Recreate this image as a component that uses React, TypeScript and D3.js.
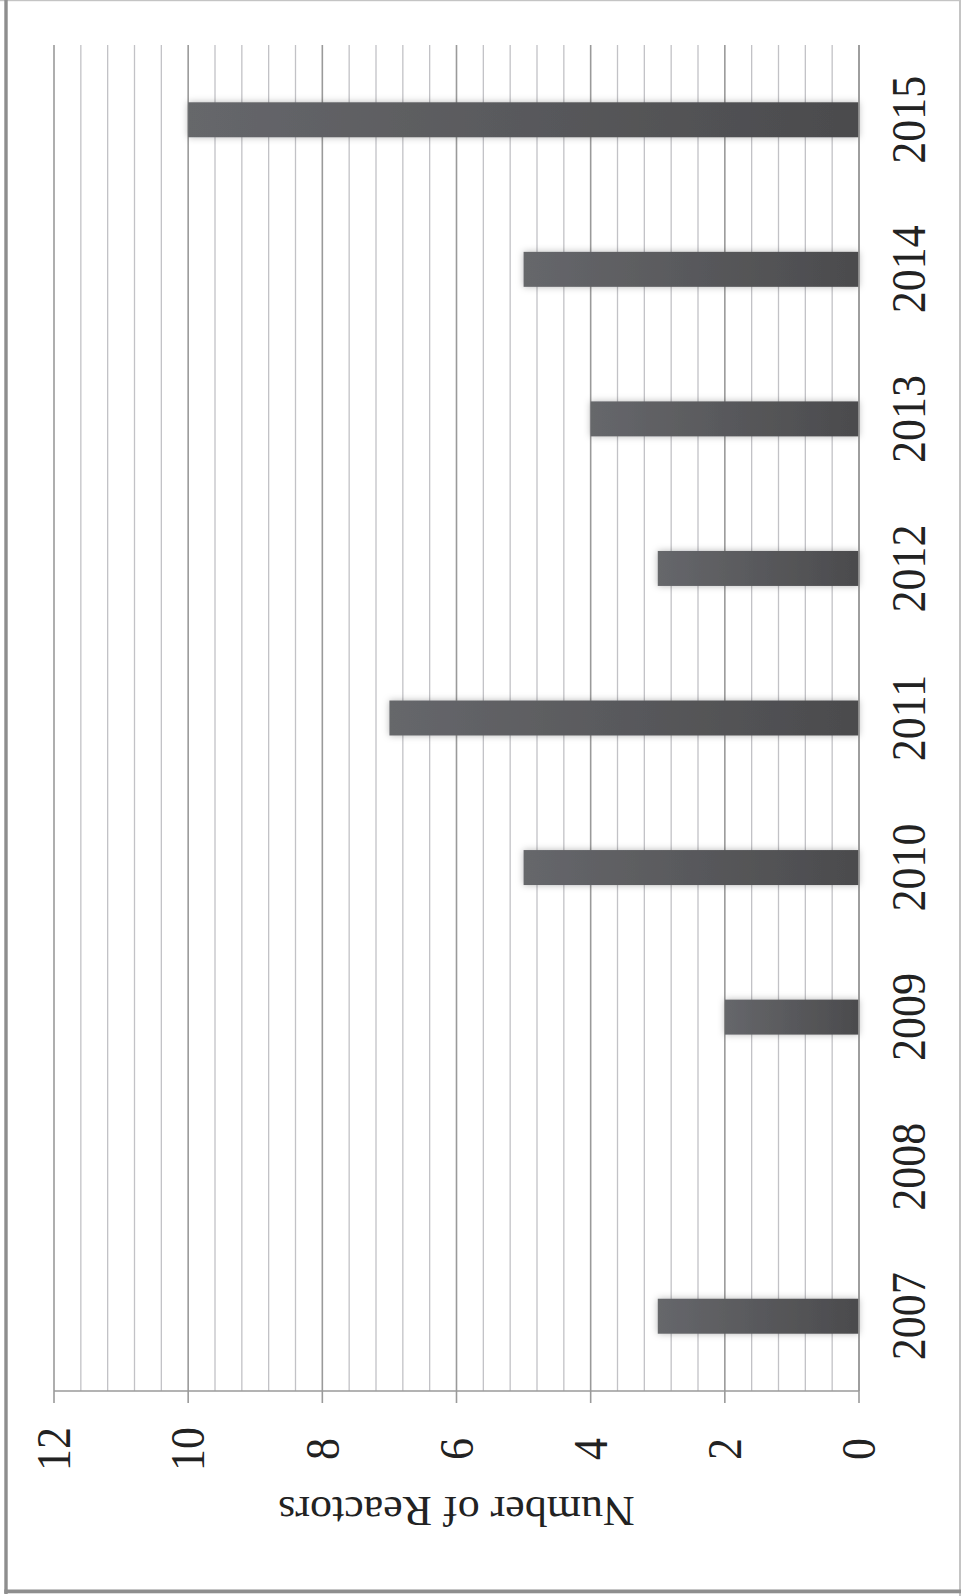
import React from "react";
import * as d3 from "d3";

const categories = ["2007", "2008", "2009", "2010", "2011", "2012", "2013", "2014", "2015"];
const reactors = [3, 0, 2, 5, 7, 3, 4, 5, 10];
const valueTicks = [0, 2, 4, 6, 8, 10, 12];
const axisTitle = "Number of Reactors";

const W = 961;
const H = 1596;
const FONT = "'Liberation Serif', 'Times New Roman', serif";

export default function App() {
  const x = d3.scaleLinear().domain([0, 12]).range([859, 54]);
  const y = d3
    .scaleBand<string>()
    .domain(categories)
    .range([1391, 45])
    .paddingInner(0.766)
    .paddingOuter(0.383);

  const minor = d3.range(0, 31).map((i) => i * 0.4);
  const yTop = 45;
  const yAxis = 1391;

  return (
    <svg
      width={W}
      height={H}
      style={{ position: "absolute", left: 0, top: 0, display: "block", background: "#fff" }}
    >
      <defs>
        <linearGradient id="barGrad" x1="0" y1="0" x2="1" y2="0">
          <stop offset="0" stopColor="#66676b" />
          <stop offset="1" stopColor="#4b4b4d" />
        </linearGradient>
        <filter id="shadow" x="-10%" y="-60%" width="120%" height="220%">
          <feDropShadow dx="0" dy="0" stdDeviation="3.5" floodColor="#000" floodOpacity="0.28" />
        </filter>
      </defs>
      <rect x={0} y={0} width={W} height={H} fill="#fff" />

      {/* gridlines */}
      {minor.map((v, i) => {
        const major = i % 5 === 0;
        const px = x(v);
        return (
          <line
            key={"g" + i}
            x1={px}
            x2={px}
            y1={yTop}
            y2={yAxis}
            stroke={major ? "#9a9a9a" : "#c2c2c6"}
            strokeWidth={major ? 1.6 : 1.3}
          />
        );
      })}

      {/* bars */}
      {categories.map((c, i) => {
        const v = reactors[i];
        if (v <= 0) return null;
        const bx = x(v);
        return (
          <rect
            key={"b" + c}
            x={bx}
            y={y(c)!}
            width={x(0) - bx}
            height={y.bandwidth()}
            fill="url(#barGrad)"
            filter="url(#shadow)"
          />
        );
      })}

      {/* axes */}
      <line x1={x(0)} x2={x(0)} y1={yTop} y2={yAxis} stroke="#9a9a9a" strokeWidth={1.6} />
      <line x1={x(12)} x2={x(0)} y1={yAxis} y2={yAxis} stroke="#9a9a9a" strokeWidth={1.6} />
      {valueTicks.map((t) => (
        <line
          key={"t" + t}
          x1={x(t)}
          x2={x(t)}
          y1={yAxis}
          y2={yAxis + 12}
          stroke="#9a9a9a"
          strokeWidth={1.6}
        />
      ))}

      {/* value tick labels */}
      {valueTicks.map((t) => (
        <text
          key={"l" + t}
          transform={`translate(${x(t)},1449) rotate(-90) scale(1,1.1)`}
          textAnchor="middle"
          dominantBaseline="central"
          fontFamily={FONT}
          fontSize={44}
          fill="#222"
        >
          {t}
        </text>
      ))}

      {/* category labels */}
      {categories.map((c) => (
        <text
          key={"c" + c}
          transform={`translate(909,${y(c)! + y.bandwidth() / 2}) rotate(-90) scale(1,1.1)`}
          textAnchor="middle"
          dominantBaseline="central"
          fontFamily={FONT}
          fontSize={44}
          fill="#222"
        >
          {c}
        </text>
      ))}

      {/* axis title */}
      <text
        transform={`translate(${(x(0) + x(12)) / 2},1497) rotate(180) scale(1,0.95)`}
        textAnchor="middle"
        fontFamily={FONT}
        fontSize={44}
        fill="#222"
      >
        {axisTitle}
      </text>

      {/* frame */}
      <rect x={0} y={0} width={W} height={1.2} fill="#c4c4c4" />
      <rect x={959} y={0} width={2} height={H} fill="#c4c4c4" />
      <rect x={4.3} y={0} width={3.4} height={1594} fill="#8e8e8e" />
      <rect x={4.3} y={1589.5} width={956.7} height={3.8} fill="#8e8e8e" />
    </svg>
  );
}
